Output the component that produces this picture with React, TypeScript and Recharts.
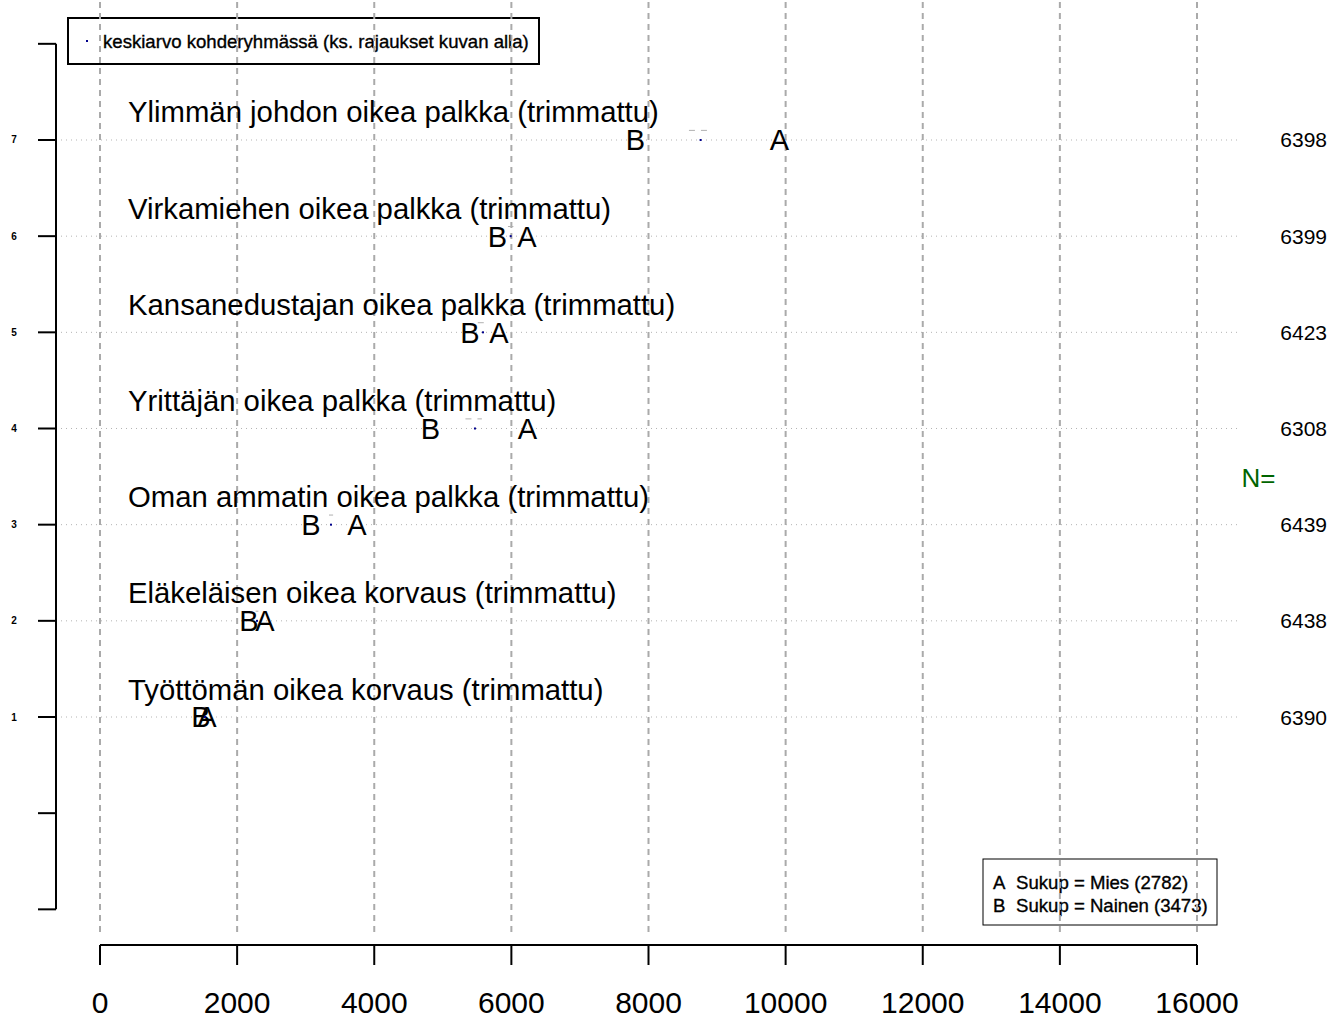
import { ScatterChart, Scatter, XAxis, YAxis, ReferenceLine, Customized } from "recharts";

const categories = [
  "Työttömän oikea korvaus (trimmattu)",
  "Eläkeläisen oikea korvaus (trimmattu)",
  "Oman ammatin oikea palkka (trimmattu)",
  "Yrittäjän oikea palkka (trimmattu)",
  "Kansanedustajan oikea palkka (trimmattu)",
  "Virkamiehen oikea palkka (trimmattu)",
  "Ylimmän johdon oikea palkka (trimmattu)",
];
const menA = [1561, 2407, 3748, 6235, 5820, 6228, 9910];
const womenB = [1473, 2173, 3077, 4820, 5397, 5797, 7810];
const groupMean = [1531, 2290, 3369, 5469, 5586, 5990, 8760];
const ciLow = [1515, 2270, 3340, 5330, 5510, 5950, 8590];
const ciHigh = [1545, 2310, 3400, 5570, 5630, 6030, 8925];
const nCounts = [6390, 6438, 6439, 6308, 6423, 6399, 6398];
const xTicks = [0, 2000, 4000, 6000, 8000, 10000, 12000, 14000, 16000];
const yTicks = [-1, 0, 1, 2, 3, 4, 5, 6, 7, 8];

const FONT = "'Liberation Sans', Arial, Helvetica, sans-serif";
const W = 1343;
const H = 1018;
// pixel -> data helpers for the R-style axis pieces that live outside the plot box
const pxToX = (px: number) => ((px - 100) / (1197 - 100)) * 16000;
const AXIS_X = pxToX(56);
const DOT_X0 = pxToX(56);
const DOT_X1 = pxToX(1238);

const rows = categories.map((name, i) => ({
  row: i + 1,
  name,
  a: menA[i],
  b: womenB[i],
  mean: groupMean[i],
  n: nCounts[i],
}));

const aData = rows.map((r) => ({ x: r.a, y: r.row }));
const bData = rows.map((r) => ({ x: r.b, y: r.row }));
const meanData = rows.map((r) => ({ x: r.mean, y: r.row }));
const labelData = rows.map((r) => ({ x: 0, y: r.row, name: r.name }));
const nData = rows.map((r) => ({ x: 16000, y: r.row, n: r.n }));

const Letter = (ch: string) => (p: any) => (
  <text x={p.cx} y={p.cy + 10.4} textAnchor="middle" fontSize={29} fontFamily={FONT} fill="#000">
    {ch}
  </text>
);

const MeanDot = (p: any) => <rect x={p.cx - 1} y={p.cy - 1} width={2} height={2} fill="#00008B" />;

const RowLabel = (p: any) => (
  <text x={p.cx + 28} y={p.cy - 17.5} fontSize={29.3} fontFamily={FONT} fill="#000">
    {p.payload.name}
  </text>
);

const NLabel = (p: any) => (
  <text x={p.cx + 130} y={p.cy + 7.5} textAnchor="end" fontSize={21} fontFamily={FONT} fill="#000">
    {p.payload.n}
  </text>
);

const LeftTick = (p: any) => {
  const v = p.payload.value;
  return (
    <g>
      <line x1={38} x2={56} y1={p.y} y2={p.y} stroke="#000" strokeWidth={2} />
      {v >= 1 && v <= 7 && (
        <text x={14} y={p.y + 3.5} textAnchor="middle" fontSize={10} fontWeight="bold" fontFamily={FONT} fill="#000">
          {v}
        </text>
      )}
    </g>
  );
};

const legendText = { fontSize: 18.6, fill: "#000", stroke: "#000", strokeWidth: 0.35 };

const Legends = () => (
  <g fontFamily={FONT}>
    <rect x={68} y={18} width={471} height={46} fill="#fff" stroke="#000" strokeWidth={2} />
    <rect x={86} y={40} width={2} height={2} fill="#00008B" />
    <text x={103} y={47.5} {...legendText}>
      keskiarvo kohderyhmässä (ks. rajaukset kuvan alla)
    </text>
    <rect x={983} y={859} width={234} height={66} fill="#fff" stroke="#000" strokeWidth={1} />
    <text x={993} y={888.5} {...legendText}>A</text>
    <text x={1016} y={888.5} {...legendText}>Sukup = Mies (2782)</text>
    <text x={993} y={911.5} {...legendText}>B</text>
    <text x={1016} y={911.5} {...legendText}>Sukup = Nainen (3473)</text>
    <text x={1258.5} y={486.5} textAnchor="middle" fontSize={26} fill="#006400">N=</text>
  </g>
);

export default function App() {
  return (
    <div style={{ position: "absolute", left: 0, top: 0, width: W, height: H, background: "#fff" }}>
      <ScatterChart width={W} height={H} margin={{ top: 0, right: 146, bottom: 0, left: 0 }}>
        <XAxis
          type="number"
          dataKey="x"
          domain={[0, 16000]}
          ticks={xTicks}
          interval={0}
          height={73}
          tickSize={20}
          tickMargin={27}
          axisLine={{ stroke: "#000", strokeWidth: 2 }}
          tickLine={{ stroke: "#000", strokeWidth: 2 }}
          tick={{ fontSize: 30, fill: "#000", fontFamily: FONT }}
        />
        <YAxis
          type="number"
          dataKey="y"
          domain={[-1.3708, 8.4557]}
          allowDataOverflow
          ticks={yTicks}
          interval={0}
          width={100}
          axisLine={false}
          tickLine={false}
          tick={<LeftTick />}
        />
        {xTicks.map((t) => (
          <ReferenceLine
            key={"gx" + t}
            segment={[{ x: t, y: -1.2356 }, { x: t, y: 8.4557 }]}
            stroke="#aaaaaa"
            strokeWidth={2}
            strokeDasharray="6 5"
            ifOverflow="visible"
          />
        ))}
        {rows.map((r) => (
          <ReferenceLine
            key={"gy" + r.row}
            segment={[{ x: DOT_X0, y: r.row }, { x: DOT_X1, y: r.row }]}
            stroke="#b4b4b4"
            strokeWidth={1}
            strokeDasharray="1 4"
            ifOverflow="visible"
          />
        ))}
        <ReferenceLine
          segment={[{ x: AXIS_X, y: -1 }, { x: AXIS_X, y: 8 }]}
          stroke="#000"
          strokeWidth={2}
          ifOverflow="visible"
        />
        {rows.map((r, i) => (
          <ReferenceLine
            key={"ci" + r.row}
            segment={[{ x: ciLow[i], y: r.row + 0.1 }, { x: ciHigh[i], y: r.row + 0.1 }]}
            stroke="#b0b0b0"
            strokeWidth={1}
            strokeDasharray="6 6"
            ifOverflow="visible"
          />
        ))}
        <Scatter data={labelData} shape={RowLabel} isAnimationActive={false} />
        <Scatter data={nData} shape={NLabel} isAnimationActive={false} />
        <Scatter data={bData} shape={Letter("B")} isAnimationActive={false} />
        <Scatter data={aData} shape={Letter("A")} isAnimationActive={false} />
        <Scatter data={meanData} shape={MeanDot} isAnimationActive={false} />
        <Customized component={Legends} />
      </ScatterChart>
    </div>
  );
}
